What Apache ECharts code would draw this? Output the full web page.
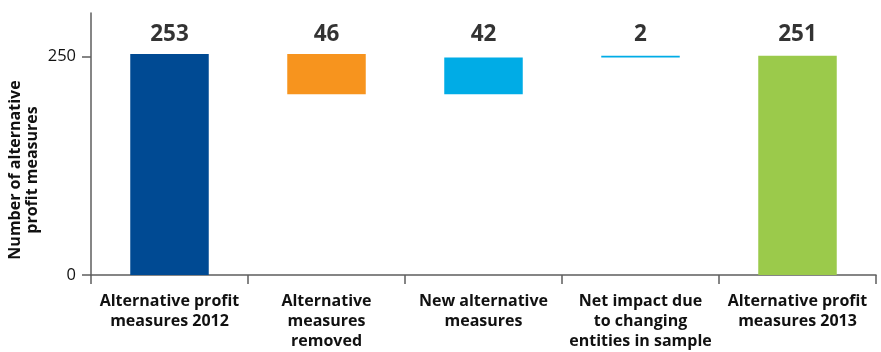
<!DOCTYPE html>
<html>
<head>
<meta charset="utf-8">
<script src="https://cdn.jsdelivr.net/npm/echarts@6/dist/echarts.min.js"></script>
<style>
  html, body { margin: 0; padding: 0; background: #fff; }
  #chart { width: 881px; height: 352px; }
</style>
</head>
<body>
<div id="chart"></div>
<script>
// Waterfall of alternative profit measures, 2012 -> 2013
const categories = [
  'Alternative profit\nmeasures 2012',
  'Alternative\nmeasures\nremoved',
  'New alternative\nmeasures',
  'Net impact due\nto changing\nentities in sample',
  'Alternative profit\nmeasures 2013'
];
// Size of each step (shown above the column)
const stepValues = [253, 46, 42, 2, 251];
// Invisible offset on which each floating step sits
const baseValues = [0, 207, 207, 249, 0];
const barColors = ['#004A93', '#F7941E', '#00ACE6', '#00ACE6', '#9BCA4B'];
const yTicks = [0, 250];

const FONT = '"Open Sans", "Noto Sans", sans-serif';
const LABEL_LEVEL = 275; // height of the value labels row, in axis units

const chart = echarts.init(document.getElementById('chart'), null, { renderer: 'canvas' });

chart.setOption({
  animation: false,
  backgroundColor: '#ffffff',
  grid: { left: 91, right: 5, top: 13, bottom: 77, containLabel: false, outerBoundsMode: 'none' },
  xAxis: {
    type: 'category',
    data: categories,
    axisLine: { show: true, lineStyle: { color: '#5e5e5e', width: 1.5 } },
    axisTick: { show: true, length: 9, alignWithLabel: false, lineStyle: { color: '#5e5e5e', width: 1.5 } },
    axisLabel: {
      interval: 0,
      margin: 16,
      color: '#111111',
      fontFamily: FONT,
      fontWeight: 'bold',
      fontSize: 16,
      lineHeight: 20
    }
  },
  yAxis: {
    type: 'value',
    min: 0,
    max: 300,
    interval: 50,
    name: 'Number of alternative\nprofit measures',
    nameLocation: 'middle',
    nameRotate: 90,
    nameGap: 50,
    nameMoveOverlap: false,
    nameTextStyle: {
      color: '#111111',
      fontFamily: FONT,
      fontWeight: 'bold',
      fontSize: 16,
      lineHeight: 17,
      padding: [0, 52, 0, 0]
    },
    splitLine: { show: false },
    axisLine: { show: true, lineStyle: { color: '#5e5e5e', width: 1.5 } },
    axisTick: { show: true, length: 9, customValues: yTicks, lineStyle: { color: '#5e5e5e', width: 1.5 } },
    axisLabel: {
      customValues: yTicks,
      margin: 15,
      color: '#111111',
      fontFamily: FONT,
      fontSize: 16.5
    }
  },
  series: [
    {
      type: 'bar',
      stack: 'wf',
      barWidth: '50%',
      silent: true,
      itemStyle: { color: 'transparent' },
      data: baseValues
    },
    {
      type: 'bar',
      stack: 'wf',
      barWidth: '50%',
      data: stepValues.map((v, i) => ({ value: v, itemStyle: { color: barColors[i] } }))
    },
    {
      type: 'scatter',
      symbolSize: 0,
      silent: true,
      data: stepValues.map(() => LABEL_LEVEL),
      label: {
        show: true,
        position: 'inside',
        color: '#000000',
        fontFamily: FONT,
        fontWeight: 'bold',
        fontSize: 22.5,
        formatter: (p) => String(stepValues[p.dataIndex])
      }
    }
  ]
});
</script>
</body>
</html>
